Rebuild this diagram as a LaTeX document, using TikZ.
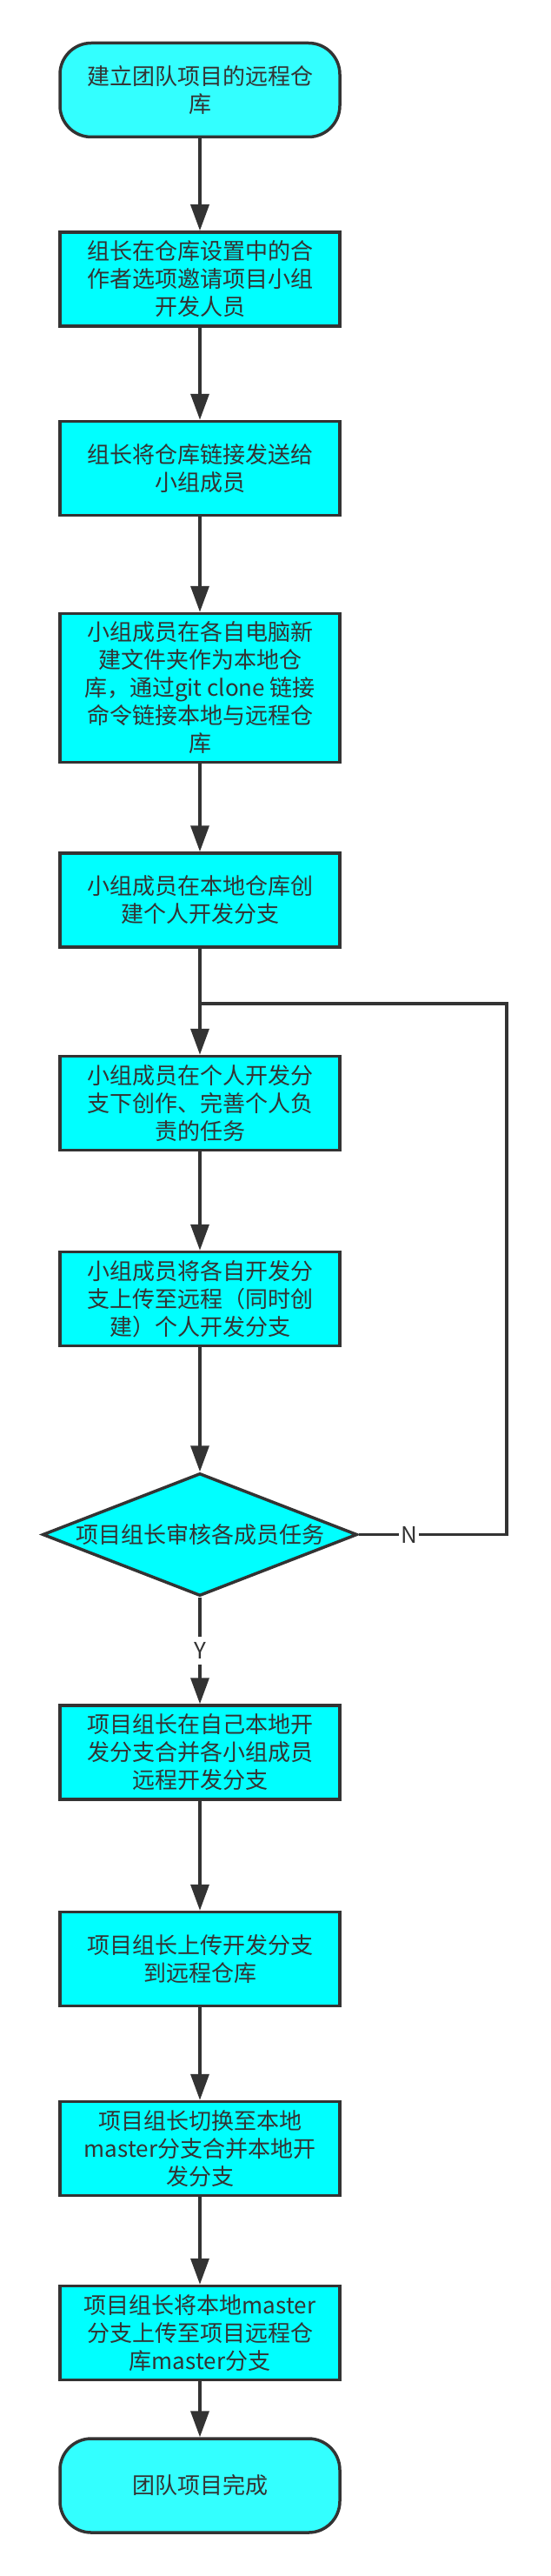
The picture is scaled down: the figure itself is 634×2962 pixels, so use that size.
\documentclass[tikz,border=0pt]{standalone}
\usepackage{fontspec}
\newfontfamily\cjkfont{Noto Sans CJK SC}
\usetikzlibrary{shapes.geometric,arrows.meta}
\definecolor{linegray}{HTML}{333333}
\definecolor{boxcyan}{HTML}{00FFFF}
\definecolor{termcyan}{HTML}{33FFFF}
\begin{document}
\begin{tikzpicture}[x=1pt,y=1pt,
  every node/.style={font=\cjkfont\fontsize{26pt}{32pt}\selectfont,text=linegray},
  procbox/.style={draw=linegray,line width=3.5pt,fill=boxcyan,minimum width=322pt,minimum height=108pt,align=center,inner sep=0pt},
  termbox/.style={procbox,fill=termcyan,rounded corners=36pt},
  decbox/.style={diamond,draw=linegray,line width=3.5pt,fill=boxcyan,aspect=2.5,minimum width=362pt,minimum height=141pt,inner sep=0pt},
  flow/.style={draw=linegray,line width=3.5pt,-{Triangle[length=30pt,width=21pt]}},
  link/.style={draw=linegray,line width=3.5pt},
  tag/.style={fill=white,inner xsep=2pt,inner ysep=6pt}]

\fill[white] (0,0) rectangle (634,-2962);
\useasboundingbox (0,0) rectangle (634,-2962);

% main column
\node[termbox] (start) at (230,-103.5) {建立团队项目的远程仓\\库};
\node[procbox] (invite) at (230,-321) {组长在仓库设置中的合\\作者选项邀请项目小组\\开发人员};
\node[procbox] (share) at (230,-538.5) {组长将仓库链接发送给\\小组成员};
\node[procbox,minimum height=171pt] (clone) at (230,-791) {小组成员在各自电脑新\\建文件夹作为本地仓\\库，通过git clone 链接\\命令链接本地与远程仓\\库};
\node[procbox] (branch) at (230,-1035) {小组成员在本地仓库创\\建个人开发分支};
\coordinate (join) at (230,-1154);
\coordinate (loop) at (583,-1154);
\node[procbox] (work) at (230,-1268.5) {小组成员在个人开发分\\支下创作、完善个人负\\责的任务};
\node[procbox] (push) at (230,-1493.5) {小组成员将各自开发分\\支上传至远程（同时创\\建）个人开发分支};
\node[decbox] (review) at (230,-1764.5) {项目组长审核各成员任务};
\node[procbox] (merge) at (230,-2015) {项目组长在自己本地开\\发分支合并各小组成员\\远程开发分支};
\node[procbox] (upload) at (230,-2252.5) {项目组长上传开发分支\\到远程仓库};
\node[procbox] (switch) at (230,-2470.5) {项目组长切换至本地\\master分支合并本地开\\发分支};
\node[procbox] (final) at (230,-2682.5) {项目组长将本地master\\分支上传至项目远程仓\\库master分支};
\node[termbox] (done) at (230,-2858) {团队项目完成};

% arrows
\draw[flow] (start) -- (invite);
\draw[flow] (invite) -- (share);
\draw[flow] (share) -- (clone);
\draw[flow] (clone) -- (branch);
\draw[link] (branch) -- (join);
\draw[flow] (join) -- (work);
\draw[flow] (work) -- (push);
\draw[flow] (push) -- (review);
\draw[flow] (review) -- node[tag] {Y} (merge);
\draw[flow] (merge) -- (upload);
\draw[flow] (upload) -- (switch);
\draw[flow] (switch) -- (final);
\draw[flow] (final) -- (done);

% back loop
\draw[link] (review.east) -- node[tag,pos=.34] {N} (review.east -| loop) -- (loop) -- (join);

\end{tikzpicture}
\end{document}
